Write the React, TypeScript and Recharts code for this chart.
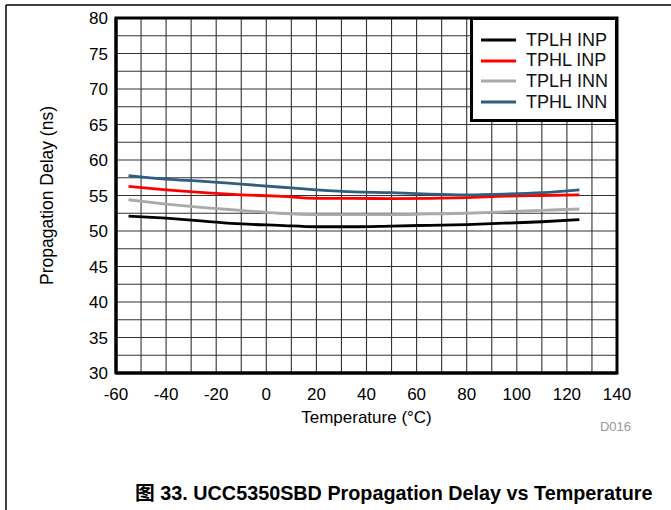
import {
    LineChart,
    Line,
    XAxis,
    YAxis,
    CartesianGrid,
    Legend,
    ReferenceArea,
    Label,
} from "recharts";

const temps = [-55, -40, -25, -10, 5, 20, 35, 50, 65, 80, 95, 110, 125];
const tplhInp = [52.1, 51.8, 51.4, 51.0, 50.8, 50.6, 50.6, 50.7, 50.8, 50.9, 51.1, 51.3, 51.6];
const tphlInp = [56.3, 55.8, 55.4, 55.1, 54.9, 54.6, 54.6, 54.55, 54.6, 54.7, 54.9, 55.0, 55.1];
const tplhInn = [54.4, 53.8, 53.3, 52.9, 52.5, 52.3, 52.3, 52.3, 52.4, 52.5, 52.7, 52.9, 53.1];
const tphlInn = [57.8, 57.3, 57.0, 56.6, 56.2, 55.8, 55.5, 55.4, 55.2, 55.1, 55.2, 55.4, 55.8];

const seriesNames = ["TPLH INP", "TPHL INP", "TPLH INN", "TPHL INN"];

const xTicks = [-60, -50, -40, -30, -20, -10, 0, 10, 20, 30, 40, 50, 60, 70, 80, 90, 100, 110, 120, 130, 140];
const yTicks = [30, 32.5, 35, 37.5, 40, 42.5, 45, 47.5, 50, 52.5, 55, 57.5, 60, 62.5, 65, 67.5, 70, 72.5, 75, 77.5, 80];

const data = temps.map((t, i) => ({
    temp: t,
    tplhInp: tplhInp[i],
    tphlInp: tphlInp[i],
    tplhInn: tplhInn[i],
    tphlInn: tphlInn[i],
}));

const font = "'Liberation Sans', Arial, sans-serif";

function LegendBox(props: any) {
    const items = [...(props.payload || [])].sort(
        (a: any, b: any) => seriesNames.indexOf(a.value) - seriesNames.indexOf(b.value)
    );
    return (
        <div
            style={{
                boxSizing: "border-box",
                width: 148,
                height: 105,
                border: "3px solid #000",
                background: "#fff",
                paddingTop: 10,
                fontFamily: font,
                fontSize: 18,
                color: "#111",
            }}
        >
            {items.map((it: any) => (
                <div key={it.value} style={{ display: "flex", alignItems: "center", height: 20.6 }}>
                    <svg width={35} height={4} style={{ marginLeft: 8, marginRight: 10 }}>
                        <line x1={0} y1={2} x2={35} y2={2} stroke={it.color} strokeWidth={3} />
                    </svg>
                    <span>{it.value}</span>
                </div>
            ))}
        </div>
    );
}

function YTitle(props: any) {
    const vb = props.viewBox;
    const cx = 47;
    const cy = vb.y + vb.height / 2;
    return (
        <text
            x={cx}
            y={cy}
            transform={`rotate(-90, ${cx}, ${cy})`}
            textAnchor="middle"
            dominantBaseline="central"
            fontSize={17.5}
            fontFamily={font}
            fill="#000"
        >
            Propagation Delay (ns)
        </text>
    );
}

export default function App() {
    return (
        <div style={{ position: "relative", width: 671, height: 510, background: "#fff" }}>
            <style>{"body{margin:0}"}</style>
            <LineChart
                width={671}
                height={510}
                data={data}
                margin={{ top: 18, right: 54, bottom: 107, left: 0 }}
            >
                <CartesianGrid stroke="#333" strokeWidth={1.1} />
                <XAxis
                    type="number"
                    dataKey="temp"
                    domain={[-60, 140]}
                    ticks={xTicks}
                    interval={0}
                    tickFormatter={(v: number) => (v % 20 === 0 ? String(v) : "")}
                    tickLine={false}
                    tickSize={0}
                    tickMargin={15}
                    height={30}
                    axisLine={{ stroke: "#000", strokeWidth: 3 }}
                    tick={{ fill: "#000", fontSize: 17, fontFamily: font }}
                >
                    <Label
                        value="Temperature (°C)"
                        position="bottom"
                        offset={8}
                        style={{ fill: "#000", fontSize: 17, fontFamily: font }}
                    />
                </XAxis>
                <YAxis
                    type="number"
                    domain={[30, 80]}
                    ticks={yTicks}
                    interval={0}
                    tickFormatter={(v: number) => (v % 5 === 0 ? String(v) : "")}
                    tickLine={false}
                    tickSize={0}
                    tickMargin={8}
                    width={116}
                    axisLine={{ stroke: "#000", strokeWidth: 3 }}
                    tick={{ fill: "#000", fontSize: 17, fontFamily: font }}
                >
                    <Label content={YTitle} />
                </YAxis>
                <ReferenceArea x1={-60} x2={140} y1={30} y2={80} fill="none" stroke="#000" strokeWidth={3} />
                <Line type="monotone" dataKey="tplhInp" name="TPLH INP" stroke="#000000" strokeWidth={2.8} dot={false} isAnimationActive={false} />
                <Line type="monotone" dataKey="tphlInp" name="TPHL INP" stroke="#ff0000" strokeWidth={2.8} dot={false} isAnimationActive={false} />
                <Line type="monotone" dataKey="tplhInn" name="TPLH INN" stroke="#aaaaaa" strokeWidth={2.8} dot={false} isAnimationActive={false} />
                <Line type="monotone" dataKey="tphlInn" name="TPHL INN" stroke="#2f5f7d" strokeWidth={2.8} dot={false} isAnimationActive={false} />
                <Legend
                    layout="vertical"
                    align="center"
                    verticalAlign="middle"
                    content={LegendBox}
                    wrapperStyle={{ left: 470, top: 17, width: 148, height: 105 }}
                />
            </LineChart>
            <svg
                width={671}
                height={510}
                style={{ position: "absolute", left: 0, top: 0, pointerEvents: "none" }}
            >
                <line x1={6} y1={5} x2={671} y2={5} stroke="#000" strokeWidth={1.5} />
                <line x1={6} y1={5} x2={6} y2={510} stroke="#000" strokeWidth={1.5} />
                <text x={631} y={431} textAnchor="end" fontSize={13} fontFamily={font} fill="#999">
                    D016
                </text>
                <text
                    x={135}
                    y={500}
                    fontSize={19.8}
                    fontWeight="bold"
                    fontFamily={`${font}, 'Noto Sans CJK SC'`}
                    fill="#000"
                >
                    图 33. UCC5350SBD Propagation Delay vs Temperature
                </text>
            </svg>
        </div>
    );
}
